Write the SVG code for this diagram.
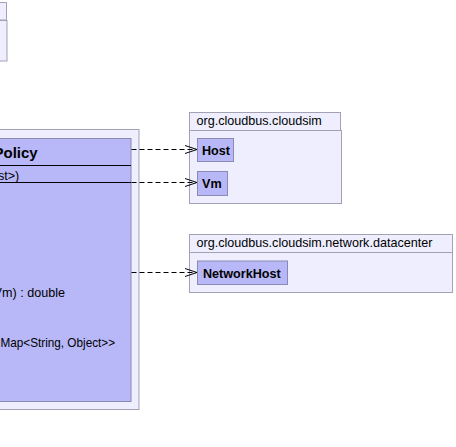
<svg xmlns="http://www.w3.org/2000/svg" width="456" height="447" viewBox="0 0 456 447">
<style>
.pkg{fill:#eeeeff;stroke:#a2a2b4;stroke-width:1}
.cls{fill:#b8b8f8;stroke:#8a8ab4;stroke-width:1}
.sep{stroke:#000;stroke-width:1}
.plabel{font-family:"Liberation Sans",Arial,sans-serif;font-size:12.6px;fill:#000}
.cname{font-family:"Liberation Sans",Arial,sans-serif;font-size:12.6px;font-weight:bold;fill:#000}
.title{font-family:"Liberation Sans",Arial,sans-serif;font-size:15px;font-weight:bold;fill:#000}
.mem{font-family:"Liberation Sans",Arial,sans-serif;font-size:12.6px;fill:#000}
.dep{stroke:#000;stroke-width:1;fill:none;stroke-dasharray:5,3}
</style>
<defs>
<marker id="open" markerUnits="userSpaceOnUse" markerWidth="14" markerHeight="12" viewBox="-12 -6 14 12" refX="0" refY="0" orient="auto">
<path d="M -12 -4 L 0 0 L -12 4" fill="none" stroke="#000" stroke-width="1"/>
</marker>
</defs>
<rect width="456" height="447" fill="#fff"/>
<g id="pkg-topleft">
<rect class="pkg" x="-1" y="2.5" width="7.5" height="17.5"/>
<rect class="pkg" x="-1" y="20.5" width="8" height="40.5"/>
</g>
<g id="pkg-policy">
<rect class="pkg" x="-1" y="129.5" width="140" height="280"/>
</g>
<g id="class-policy">
<rect class="cls" x="-1" y="138.5" width="132" height="263"/>
<text class="title" x="37.7" y="157.5" text-anchor="end">Policy</text>
<line class="sep" x1="-1" y1="165.5" x2="131" y2="165.5"/>
<text class="mem" x="19.3" y="179.5" text-anchor="end">st&gt;)</text>
<line class="sep" x1="-1" y1="182.5" x2="131" y2="182.5"/>
<text class="mem" x="65" y="297" text-anchor="end">Vm) : double</text>
<text class="mem" x="0.5" y="346.7" textLength="114.5" lengthAdjust="spacingAndGlyphs">Map&lt;String, Object&gt;&gt;</text>
</g>
<g id="pkg-cloudsim">
<rect class="pkg" x="189.5" y="112.5" width="151" height="18"/>
<rect class="pkg" x="189.5" y="130.5" width="152" height="73"/>
<text class="plabel" x="196.5" y="125.3">org.cloudbus.cloudsim</text>
</g>
<g id="class-host">
<rect class="cls" x="197.5" y="138.5" width="36" height="23"/>
<text class="cname" x="202" y="155">Host</text>
</g>
<g id="class-vm">
<rect class="cls" x="197.5" y="171.5" width="30" height="24"/>
<text class="cname" x="202" y="188">Vm</text>
</g>
<g id="pkg-network">
<rect class="pkg" x="189.5" y="234.5" width="263" height="18"/>
<rect class="pkg" x="189.5" y="252.5" width="263" height="40"/>
<text class="plabel" x="196.5" y="247.3">org.cloudbus.cloudsim.network.datacenter</text>
</g>
<g id="class-networkhost">
<rect class="cls" x="197.5" y="261" width="90" height="23.5"/>
<text class="cname" x="203" y="277.7">NetworkHost</text>
</g>
<g id="connectors">
<line class="dep" x1="131.5" y1="149.5" x2="197" y2="149.5" marker-end="url(#open)"/>
<line class="dep" x1="131.5" y1="182.5" x2="197" y2="182.5" marker-end="url(#open)"/>
<line class="dep" x1="131.5" y1="272.5" x2="197" y2="272.5" marker-end="url(#open)"/>
</g>
</svg>
